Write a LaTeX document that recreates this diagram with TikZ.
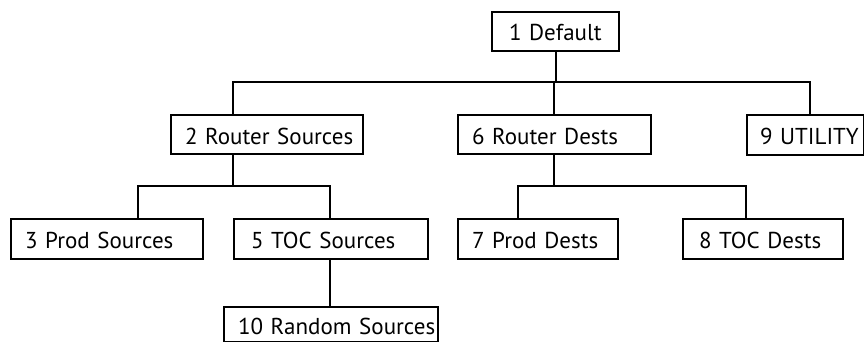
\documentclass[tikz,border=0pt]{standalone}
\usepackage{fontspec}
\setmainfont{PT Sans}
\begin{document}
\begin{tikzpicture}[x=1pt,y=-1pt,
  box/.style={draw=black, line width=2pt, anchor=north west, inner ysep=0pt,
    inner xsep=14pt, align=left, font=\fontsize{23}{25}\selectfont,
    text height=19pt, text depth=0pt},
  link/.style={draw=black, line width=2pt}]
\useasboundingbox (0,0) rectangle (864,342);
% nodes: text width = box width - 2*inner xsep
\node[box, text width=93pt,  minimum height=39pt, inner xsep=17pt] (n1) at (491,11)  {\mbox{1 Default}};
\node[box, text width=164pt, minimum height=39pt] (n2) at (170,114) {\mbox{2 Router Sources}};
\node[box, text width=165pt, minimum height=39pt] (n6) at (457,114) {\mbox{6 Router Dests}};
\node[box, text width=91pt,  minimum height=40pt, inner xsep=13pt] (n9) at (746,114) {\mbox{9 UTILITY}};
\node[box, text width=164pt, minimum height=40pt, inner xsep=14pt] (n3) at (10,218)  {\mbox{3 Prod Sources}};
\node[box, text width=160pt, minimum height=40pt, inner xsep=17pt] (n5) at (233,218) {\mbox{5 TOC Sources}};
\node[box, text width=132pt, minimum height=40pt] (n7) at (457,218) {\mbox{7 Prod Dests}};
\node[box, text width=128pt, minimum height=40pt, inner xsep=16pt] (n8) at (682,218) {\mbox{8 TOC Dests}};
\node[box, text width=186pt, minimum height=35pt] (n10) at (223,306) {\mbox{10 Random Sources}};
% junctions
\coordinate (j1) at (554,82);
\coordinate (c2) at (233,82);
\coordinate (c9) at (810,82);
\coordinate (j2) at (233,186);
\coordinate (c3) at (138,186);
\coordinate (c5) at (330,186);
\coordinate (j6) at (554,186);
\coordinate (c7) at (518,186);
\coordinate (c8) at (746,186);
% connectors
\draw[link] (n1.south) -- (n1.south |- j1);
\draw[link] (c2 |- n2.north) -- (c2) -- (c9) -- (c9 |- n9.north);
\draw[link] (j1) -- (j1 |- n6.north);
\draw[link] (j2 |- n2.south) -- (j2);
\draw[link] (c3 |- n3.north) -- (c3) -- (c5) -- (c5 |- n5.north);
\draw[link] (c5 |- n5.south) -- (c5 |- n10.north);
\draw[link] (j6 |- n6.south) -- (j6);
\draw[link] (c7 |- n7.north) -- (c7) -- (c8) -- (c8 |- n8.north);
\end{tikzpicture}
\end{document}
